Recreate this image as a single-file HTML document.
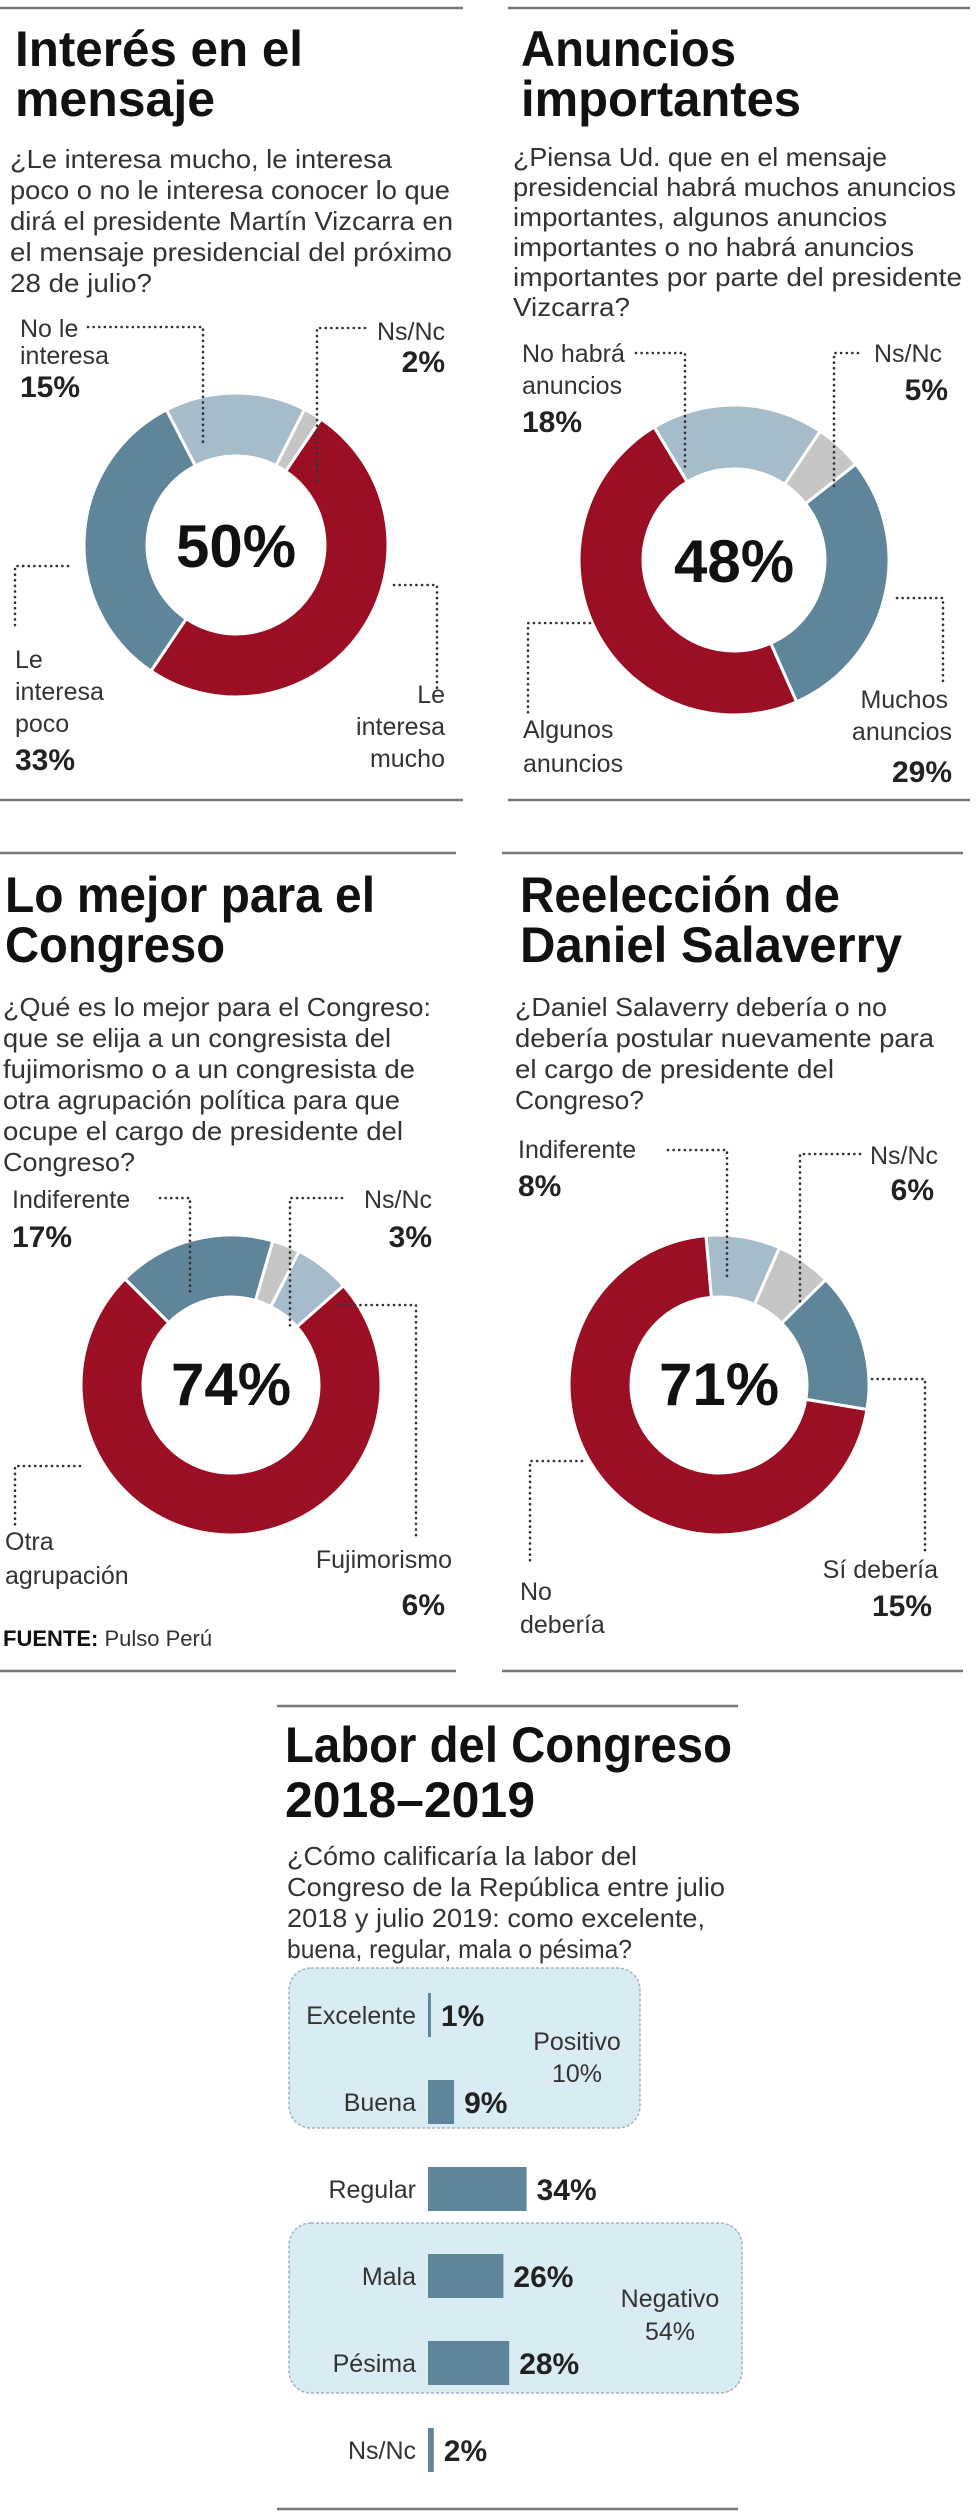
<!DOCTYPE html>
<html><head><meta charset="utf-8">
<style>
html,body{margin:0;padding:0;background:#fff;}
svg{display:block;}
text{font-family:"Liberation Sans",sans-serif;fill:#222;}
.t{font-weight:bold;font-size:50px;fill:#111;}
.q{font-size:26px;fill:#333;}
.l{font-size:25px;fill:#333;}
.v{font-size:30px;font-weight:bold;fill:#222;}
.c{font-size:60px;font-weight:bold;fill:#111;}
.rule{stroke:#777;stroke-width:2.5;}
.dot{stroke:#333;stroke-width:2.6;stroke-dasharray:0.1 5.5;stroke-linecap:round;fill:none;}
</style></head>
<body>
<svg id="page" width="980" height="2513" viewBox="0 0 980 2513" xmlns="http://www.w3.org/2000/svg">
<!-- Panel 1 -->
<g>
<line class="rule" x1="0" y1="8" x2="463" y2="8"/>
<text class="t" x="15" y="66" textLength="288" lengthAdjust="spacingAndGlyphs">Interés en el</text>
<text class="t" x="15" y="116" textLength="200" lengthAdjust="spacingAndGlyphs">mensaje</text>
<g>
<text class="q" x="10" y="168" textLength="382" lengthAdjust="spacingAndGlyphs">¿Le interesa mucho, le interesa</text>
<text class="q" x="10" y="199" textLength="440" lengthAdjust="spacingAndGlyphs">poco o no le interesa conocer lo que</text>
<text class="q" x="10" y="230" textLength="443" lengthAdjust="spacingAndGlyphs">dirá el presidente Martín  Vizcarra en</text>
<text class="q" x="10" y="261" textLength="442" lengthAdjust="spacingAndGlyphs">el mensaje presidencial del próximo</text>
<text class="q" x="10" y="292" textLength="142" lengthAdjust="spacingAndGlyphs">28 de julio?</text>
</g>
<g id="donut1"></g>
<text class="c" x="236" y="567" text-anchor="middle">50%</text>
<text class="l" x="20" y="337">No le</text>
<text class="l" x="20" y="364">interesa</text>
<text class="v" x="20" y="397">15%</text>
<path class="dot" d="M88 327 H203 V442"/>
<text class="l" x="445" y="340" text-anchor="end">Ns/Nc</text>
<text class="v" x="445" y="372" text-anchor="end">2%</text>
<path class="dot" d="M365 328 H317 V482"/>
<text class="l" x="15" y="668">Le</text>
<text class="l" x="15" y="700">interesa</text>
<text class="l" x="15" y="732">poco</text>
<text class="v" x="15" y="770">33%</text>
<path class="dot" d="M68 566 H15 V630"/>
<text class="l" x="445" y="703" text-anchor="end">Le</text>
<text class="l" x="445" y="735" text-anchor="end">interesa</text>
<text class="l" x="445" y="767" text-anchor="end">mucho</text>
<path class="dot" d="M394 585 H437 V688"/>
<line class="rule" x1="0" y1="800" x2="463" y2="800"/>
</g>
<!-- Panel 2 -->
<g>
<line class="rule" x1="508" y1="8" x2="970" y2="8"/>
<text class="t" x="521" y="66" textLength="215" lengthAdjust="spacingAndGlyphs">Anuncios</text>
<text class="t" x="521" y="116" textLength="280" lengthAdjust="spacingAndGlyphs">importantes</text>
<g>
<text class="q" x="513" y="166" textLength="374" lengthAdjust="spacingAndGlyphs">¿Piensa Ud. que en el mensaje</text>
<text class="q" x="513" y="196" textLength="443" lengthAdjust="spacingAndGlyphs">presidencial habrá muchos anuncios</text>
<text class="q" x="513" y="226" textLength="374" lengthAdjust="spacingAndGlyphs">importantes, algunos anuncios</text>
<text class="q" x="513" y="256" textLength="401" lengthAdjust="spacingAndGlyphs">importantes o no habrá anuncios</text>
<text class="q" x="513" y="286" textLength="449" lengthAdjust="spacingAndGlyphs">importantes por parte del presidente</text>
<text class="q" x="513" y="316" textLength="117" lengthAdjust="spacingAndGlyphs">Vizcarra?</text>
</g>
<g id="donut2"></g>
<text class="c" x="734" y="582" text-anchor="middle">48%</text>
<text class="l" x="522" y="362">No habrá</text>
<text class="l" x="522" y="394">anuncios</text>
<text class="v" x="522" y="432">18%</text>
<path class="dot" d="M636 353 H685 V470"/>
<text class="l" x="942" y="362" text-anchor="end">Ns/Nc</text>
<text class="v" x="948" y="400" text-anchor="end">5%</text>
<path class="dot" d="M858 353 H834 V490"/>
<text class="l" x="523" y="738">Algunos</text>
<text class="l" x="523" y="772">anuncios</text>
<path class="dot" d="M590 623 H528 V715"/>
<text class="l" x="948" y="708" text-anchor="end">Muchos</text>
<text class="l" x="952" y="740" text-anchor="end">anuncios</text>
<text class="v" x="952" y="782" text-anchor="end">29%</text>
<path class="dot" d="M897 598 H943 V682"/>
<line class="rule" x1="508" y1="800" x2="970" y2="800"/>
</g>
<!-- Panel 3 -->
<g>
<line class="rule" x1="0" y1="853" x2="456" y2="853"/>
<text class="t" x="5" y="912" textLength="370" lengthAdjust="spacingAndGlyphs">Lo mejor para el</text>
<text class="t" x="5" y="962" textLength="220" lengthAdjust="spacingAndGlyphs">Congreso</text>
<g>
<text class="q" x="3" y="1016" textLength="428" lengthAdjust="spacingAndGlyphs">¿Qué es lo mejor para el Congreso:</text>
<text class="q" x="3" y="1047" textLength="388" lengthAdjust="spacingAndGlyphs">que se elija a un congresista del</text>
<text class="q" x="3" y="1078" textLength="412" lengthAdjust="spacingAndGlyphs">fujimorismo o a un congresista de</text>
<text class="q" x="3" y="1109" textLength="397" lengthAdjust="spacingAndGlyphs">otra agrupación política para que</text>
<text class="q" x="3" y="1140" textLength="400" lengthAdjust="spacingAndGlyphs">ocupe el cargo de presidente del</text>
<text class="q" x="3" y="1171" textLength="132" lengthAdjust="spacingAndGlyphs">Congreso?</text>
</g>
<g id="donut3"></g>
<text class="c" x="231" y="1405" text-anchor="middle">74%</text>
<text class="l" x="12" y="1208">Indiferente</text>
<text class="v" x="12" y="1247">17%</text>
<path class="dot" d="M160 1198 H190 V1295"/>
<text class="l" x="432" y="1208" text-anchor="end">Ns/Nc</text>
<text class="v" x="432" y="1247" text-anchor="end">3%</text>
<path class="dot" d="M342 1198 H290 V1330"/>
<text class="l" x="5" y="1550">Otra</text>
<text class="l" x="5" y="1584">agrupación</text>
<path class="dot" d="M80 1466 H15 V1525"/>
<text class="l" x="452" y="1568" text-anchor="end">Fujimorismo</text>
<text class="v" x="445" y="1615" text-anchor="end">6%</text>
<path class="dot" d="M338 1305 H416 V1540"/>
<text x="3" y="1646" font-size="22"><tspan font-weight="bold" fill="#111">FUENTE:</tspan><tspan fill="#333"> Pulso Perú</tspan></text>
<line class="rule" x1="0" y1="1671" x2="456" y2="1671"/>
</g>
<!-- Panel 4 -->
<g>
<line class="rule" x1="502" y1="853" x2="963" y2="853"/>
<text class="t" x="520" y="912" textLength="320" lengthAdjust="spacingAndGlyphs">Reelección de</text>
<text class="t" x="520" y="962" textLength="382" lengthAdjust="spacingAndGlyphs">Daniel Salaverry</text>
<g>
<text class="q" x="515" y="1016" textLength="372" lengthAdjust="spacingAndGlyphs">¿Daniel Salaverry debería o no</text>
<text class="q" x="515" y="1047" textLength="419" lengthAdjust="spacingAndGlyphs">debería postular nuevamente para</text>
<text class="q" x="515" y="1078" textLength="319" lengthAdjust="spacingAndGlyphs">el cargo de presidente del</text>
<text class="q" x="515" y="1109" textLength="129" lengthAdjust="spacingAndGlyphs">Congreso?</text>
</g>
<g id="donut4"></g>
<text class="c" x="719" y="1405" text-anchor="middle">71%</text>
<text class="l" x="518" y="1158">Indiferente</text>
<text class="v" x="518" y="1196">8%</text>
<path class="dot" d="M668 1150 H727 V1280"/>
<text class="l" x="938" y="1164" text-anchor="end">Ns/Nc</text>
<text class="v" x="934" y="1200" text-anchor="end">6%</text>
<path class="dot" d="M860 1154 H800 V1302"/>
<text class="l" x="938" y="1578" text-anchor="end">Sí debería</text>
<text class="v" x="932" y="1616" text-anchor="end">15%</text>
<path class="dot" d="M872 1379 H925 V1552"/>
<text class="l" x="520" y="1600">No</text>
<text class="l" x="520" y="1633">debería</text>
<path class="dot" d="M582 1461 H530 V1565"/>
<line class="rule" x1="502" y1="1671" x2="963" y2="1671"/>
</g>
<!-- Panel 5 -->
<g>
<line class="rule" x1="277" y1="1706" x2="738" y2="1706"/>
<text class="t" x="285" y="1762" textLength="447" lengthAdjust="spacingAndGlyphs">Labor del Congreso</text>
<text class="t" x="285" y="1817" textLength="250" lengthAdjust="spacingAndGlyphs">2018–2019</text>
<g>
<text class="q" x="287" y="1865" textLength="350" lengthAdjust="spacingAndGlyphs">¿Cómo calificaría la labor del</text>
<text class="q" x="287" y="1896" textLength="438" lengthAdjust="spacingAndGlyphs">Congreso de la República entre julio</text>
<text class="q" x="287" y="1927" textLength="418" lengthAdjust="spacingAndGlyphs">2018 y julio 2019: como excelente,</text>
<text class="q" x="287" y="1958" textLength="345" lengthAdjust="spacingAndGlyphs">buena, regular, mala o pésima?</text>
</g>
<rect x="289" y="1968" width="351" height="160" rx="22" fill="#d9ecf4" stroke="#9fb3be" stroke-width="1.5" stroke-dasharray="3 2"/>
<rect x="289" y="2223" width="453" height="170" rx="22" fill="#d9ecf4" stroke="#9fb3be" stroke-width="1.5" stroke-dasharray="3 2"/>
<text class="l" x="577" y="2050" text-anchor="middle">Positivo</text>
<text class="l" x="577" y="2082" text-anchor="middle">10%</text>
<text class="l" x="670" y="2307" text-anchor="middle">Negativo</text>
<text class="l" x="670" y="2340" text-anchor="middle">54%</text>
<g id="bars"></g>
<line class="rule" x1="277" y1="2509" x2="738" y2="2509"/>
</g>
</svg>
<script>
// Donut data
const d1Labels = ['Le interesa mucho', 'Le interesa poco', 'No le interesa', 'Ns/Nc'];
const d1Values = [50, 33, 15, 2];
const d2Labels = ['No habrá anuncios', 'Ns/Nc', 'Muchos anuncios', 'Algunos anuncios'];
const d2Values = [18, 5, 29, 48];
const d3Labels = ['Indiferente', 'Ns/Nc', 'Fujimorismo', 'Otra agrupación'];
const d3Values = [17, 3, 6, 74];
const d4Labels = ['Indiferente', 'Ns/Nc', 'Sí debería', 'No debería'];
const d4Values = [8, 6, 15, 71];
// Bar data
const barCategories = ['Excelente', 'Buena', 'Regular', 'Mala', 'Pésima', 'Ns/Nc'];
const barValues = [1, 9, 34, 26, 28, 2];

const RED = '#9b0f25', BLUE = '#5e8599', LIGHT = '#a7bccb', GRAY = '#c6c6c6';
const NS = 'http://www.w3.org/2000/svg';

function polar(cx, cy, r, deg) {
  const a = (deg - 90) * Math.PI / 180;
  return [cx + r * Math.cos(a), cy + r * Math.sin(a)];
}
function arcPath(cx, cy, R, r, a0, a1) {
  const large = (a1 - a0) > 180 ? 1 : 0;
  const p1 = polar(cx, cy, R, a0), p2 = polar(cx, cy, R, a1);
  const p3 = polar(cx, cy, r, a1), p4 = polar(cx, cy, r, a0);
  return 'M' + p1[0] + ' ' + p1[1] + ' A' + R + ' ' + R + ' 0 ' + large + ' 1 ' + p2[0] + ' ' + p2[1] +
    ' L' + p3[0] + ' ' + p3[1] + ' A' + r + ' ' + r + ' 0 ' + large + ' 0 ' + p4[0] + ' ' + p4[1] + ' Z';
}
function drawDonut(id, labels, values, colors, cx, cy, R, r, start) {
  const g = document.getElementById(id);
  const total = values.reduce((a, b) => a + b, 0);
  let a = start;
  values.forEach((v, i) => {
    const span = v / total * 360;
    const p = document.createElementNS(NS, 'path');
    p.setAttribute('d', arcPath(cx, cy, R, r, a, a + span));
    p.setAttribute('fill', colors[i]);
    p.setAttribute('stroke', '#fff');
    p.setAttribute('stroke-width', '3');
    
    
    g.appendChild(p);
    a += span;
  });
}
drawDonut('donut1', d1Labels, d1Values, [RED, BLUE, LIGHT, GRAY], 236, 545, 152, 89, 34);
drawDonut('donut2', d2Labels, d2Values, [LIGHT, GRAY, BLUE, RED], 734, 560, 155, 91, 329);
drawDonut('donut3', d3Labels, d3Values, [BLUE, GRAY, LIGHT, RED], 231, 1385, 150, 88, 315);
drawDonut('donut4', d4Labels, d4Values, [LIGHT, GRAY, BLUE, RED], 719, 1385, 150, 88, -5);

// Bars
const bx0 = 428, pxPerPct = 2.9, rowY0 = 2015, rowStep = 87, barH = 44;
function xScale(v) { return bx0 + v * pxPerPct; }
function yScale(i) { return rowY0 + i * rowStep; }
const bg = document.getElementById('bars');
barCategories.forEach((c, i) => {
  const cy = yScale(i);
  const rect = document.createElementNS(NS, 'rect');
  rect.setAttribute('x', bx0);
  rect.setAttribute('y', cy - barH / 2);
  rect.setAttribute('width', Math.max(xScale(barValues[i]) - bx0, 2.5));
  rect.setAttribute('height', barH);
  rect.setAttribute('fill', BLUE);
  
  
  bg.appendChild(rect);
  const lab = document.createElementNS(NS, 'text');
  lab.setAttribute('x', bx0 - 12);
  lab.setAttribute('y', cy + 9);
  lab.setAttribute('text-anchor', 'end');
  lab.setAttribute('class', 'l');
  lab.textContent = c;
  
  
  bg.appendChild(lab);
  const val = document.createElementNS(NS, 'text');
  val.setAttribute('x', xScale(barValues[i]) + 10);
  val.setAttribute('y', cy + 11);
  val.setAttribute('class', 'v');
  val.textContent = barValues[i] + '%';
  
  
  bg.appendChild(val);
});
</script>
</body></html>
